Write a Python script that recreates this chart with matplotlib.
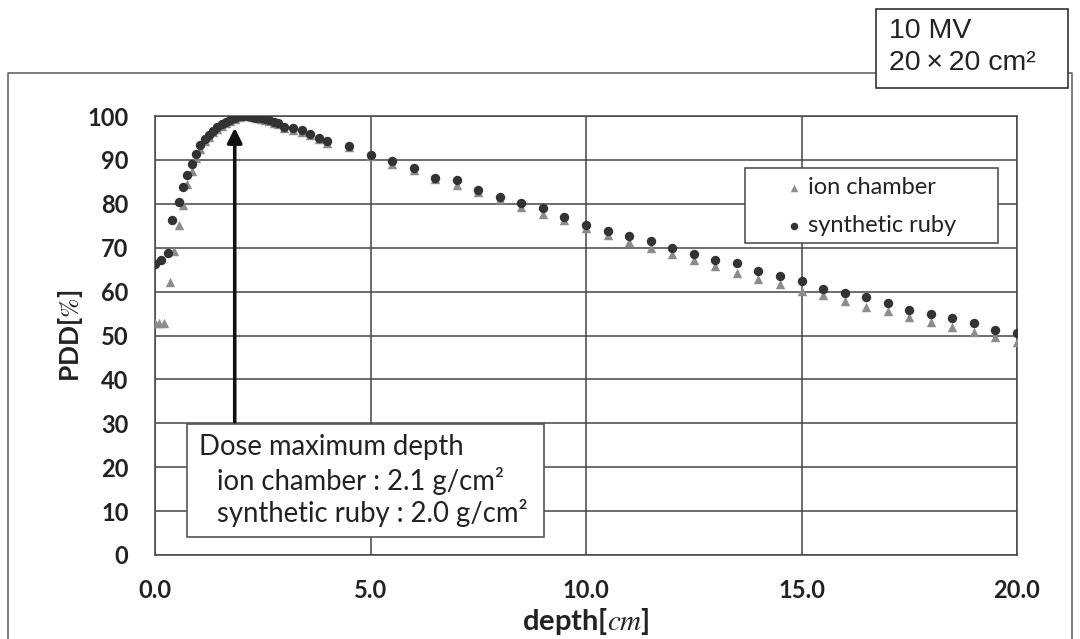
import matplotlib
matplotlib.use('Agg')
import matplotlib.pyplot as plt
from matplotlib.patches import Rectangle
from matplotlib.lines import Line2D

# synthetic ruby (circles)
ruby_depth = [0.0, 0.15, 0.3, 0.4, 0.55, 0.65, 0.75, 0.85, 0.95, 1.05,
              1.15, 1.25, 1.35, 1.45, 1.55, 1.65, 1.75, 1.85, 1.95, 2.05,
              2.15, 2.25, 2.35, 2.45, 2.55, 2.65, 2.75, 2.85, 3.0, 3.2,
              3.4, 3.6, 3.8, 4.0, 4.5, 5.0, 5.5, 6.0, 6.5, 7.0,
              7.5, 8.0, 8.5, 9.0, 9.5, 10.0, 10.5, 11.0, 11.5, 12.0,
              12.5, 13.0, 13.5, 14.0, 14.5, 15.0, 15.5, 16.0, 16.5, 17.0,
              17.5, 18.0, 18.5, 19.0, 19.5, 20.0]
ruby_pdd = [66.3, 67.2, 68.7, 76.3, 80.5, 83.8, 86.6, 89.0, 91.3, 93.3,
            94.7, 95.7, 96.6, 97.4, 98.1, 98.7, 99.2, 99.6, 99.9, 100.0,
            99.9, 99.8, 99.6, 99.5, 99.3, 99.0, 98.7, 98.3, 97.5, 97.2,
            96.7, 96.0, 95.1, 94.2, 93.2, 91.1, 89.7, 88.1, 85.8, 85.4,
            83.1, 81.5, 80.1, 79.1, 77.1, 75.2, 73.8, 72.7, 71.5, 70.0,
            68.6, 67.2, 66.6, 64.8, 63.6, 62.4, 60.7, 59.6, 58.8, 57.5,
            55.9, 54.9, 54.1, 52.8, 51.3, 50.5]

# ion chamber (triangles)
ion_depth = [0.0, 0.1, 0.2, 0.35, 0.45, 0.55, 0.65, 0.75, 0.85, 0.95,
             1.05, 1.15, 1.25, 1.35, 1.45, 1.55, 1.65, 1.75, 1.85, 1.95,
             2.05, 2.15, 2.25, 2.35, 2.45, 2.55, 2.65, 2.75, 2.85, 3.0,
             3.2, 3.4, 3.6, 3.8, 4.0, 4.5, 5.0, 5.5, 6.0, 6.5,
             7.0, 7.5, 8.0, 8.5, 9.0, 9.5, 10.0, 10.5, 11.0, 11.5,
             12.0, 12.5, 13.0, 13.5, 14.0, 14.5, 15.0, 15.5, 16.0, 16.5,
             17.0, 17.5, 18.0, 18.5, 19.0, 19.5, 20.0]
ion_pdd = [52.9, 52.9, 52.9, 62.3, 69.3, 75.2, 79.7, 84.5, 87.5, 90.5,
           92.5, 94.3, 95.3, 96.3, 97.1, 97.8, 98.4, 98.9, 99.3, 99.7,
           99.9, 100.0, 99.8, 99.6, 99.4, 99.1, 98.8, 98.5, 98.1, 97.3,
           96.9, 96.4, 95.7, 94.8, 93.9, 92.9, 90.8, 89.1, 87.8, 85.6,
           84.3, 82.8, 81.0, 79.3, 77.6, 76.2, 74.4, 73.0, 71.4, 69.9,
           68.5, 67.2, 65.8, 64.3, 62.9, 61.7, 60.1, 59.2, 57.9, 56.6,
           55.6, 54.3, 53.1, 52.0, 50.9, 49.7, 48.6]

x_ticks = [0.0, 5.0, 10.0, 15.0, 20.0]
y_ticks = [0, 10, 20, 30, 40, 50, 60, 70, 80, 90, 100]

W, H = 1080, 639
GRID = '#454545'
TXT = '#222222'


def px(x, y):
    # pixel position -> figure fraction
    return x / W, 1 - y / H


def box(fig, target, x0, y0, x1, y1, **kw):
    fx0, fy1 = px(x0, y1)
    fx1, fy0 = px(x1, y0)
    rect = Rectangle((fx0, fy1), fx1 - fx0, fy0 - fy1, transform=fig.transFigure,
                     facecolor='white', clip_on=False, **kw)
    if target is fig:
        fig.add_artist(rect)
    else:
        target.add_patch(rect)


def main():
    plt.rcParams['mathtext.fontset'] = 'stix'
    fig = plt.figure(figsize=(W / 100, H / 100), dpi=100)
    fig.patch.set_facecolor('white')

    # outer frame
    fx0, fy0 = px(8, 73)
    fx1, _ = px(1072, 73)
    fig.add_artist(Line2D([fx0, fx0, fx1, fx1], [0, fy0, fy0, 0],
                          color='#666666', lw=1.2, transform=fig.transFigure))

    left, top = px(155, 116)
    right, bottom = px(1017, 555)
    ax = fig.add_axes([left, bottom, right - left, top - bottom])

    ax.scatter(ion_depth, ion_pdd, marker='^', s=46, color='#8c8c8c',
               linewidths=0, zorder=3, label='ion chamber')
    ax.scatter(ruby_depth, ruby_pdd, marker='o', s=46, color='#333333',
               linewidths=0, zorder=4, label='synthetic ruby')

    ax.set_xlim(0, 20)
    ax.set_ylim(0, 100)
    ax.set_xticks(x_ticks)
    ax.set_xticklabels(['{:.1f}'.format(v) for v in x_ticks])
    ax.set_yticks(y_ticks)
    ax.grid(True, color=GRID, lw=1.1)
    ax.set_axisbelow(True)
    for sp in ax.spines.values():
        sp.set_color(GRID)
        sp.set_linewidth(1.1)
    ax.tick_params(length=0, labelsize=17)
    ax.tick_params(axis='x', pad=17)
    ax.tick_params(axis='y', pad=19)
    for lab in ax.get_xticklabels() + ax.get_yticklabels():
        lab.set_fontfamily('Lato')
        lab.set_fontweight('bold')
        lab.set_color(TXT)

    ax.set_xlabel(r'depth[$\mathit{cm}$]', fontfamily='Lato', fontweight='bold',
                  fontsize=21, color=TXT, labelpad=3)
    ax.set_ylabel(r'PDD[$\mathit{\%}$]', fontfamily='Lato', fontweight='bold',
                  fontsize=19, color=TXT, labelpad=2)

    # legend: frame drawn separately so the markers sit inset like the original
    box(fig, ax, 745, 168, 998, 243, edgecolor=GRID, lw=1.1, zorder=5)
    leg = ax.legend(loc='upper left', bbox_to_anchor=px(784.6, 177),
                    bbox_transform=fig.transFigure, frameon=False,
                    prop={'family': 'Lato', 'size': 17}, borderpad=0,
                    handletextpad=0.2, labelspacing=0.72, markerscale=0.8,
                    borderaxespad=0, handlelength=0.8)
    leg.set_zorder(6)
    for t in leg.get_texts():
        t.set_color(TXT)

    # dose maximum arrow
    ax.annotate('', xy=(1.85, 97.3), xytext=(1.85, 29.8),
                arrowprops=dict(arrowstyle='-|>', lw=2.6, color='#111111',
                                mutation_scale=22, shrinkA=0, shrinkB=0),
                zorder=5)

    # annotation box
    box(fig, fig, 187, 424, 544, 537, edgecolor='#555555', lw=1.2, zorder=6)
    note_font = dict(family='Lato', size=19.8, color=TXT, va='center', zorder=7)
    fig.text(*px(199, 447), 'Dose maximum depth', **note_font)
    fig.text(*px(217, 481), 'ion chamber : 2.1 g/cm²', **note_font)
    fig.text(*px(217, 513), 'synthetic ruby : 2.0 g/cm²', **note_font)

    # beam box
    box(fig, fig, 876, 9, 1068, 88, edgecolor='#333333', lw=1.2, zorder=6)
    beam_font = dict(family='Liberation Sans', size=20.5, color=TXT,
                     va='center', zorder=7)
    fig.text(*px(889, 31), '10 MV', **beam_font)
    fig.text(*px(889, 63), '20\u2009×\u200920 cm²', **beam_font)

    fig.savefig('out.png', dpi=100, facecolor='white')
    return 0


if __name__ == '__main__':
    exit(main())
